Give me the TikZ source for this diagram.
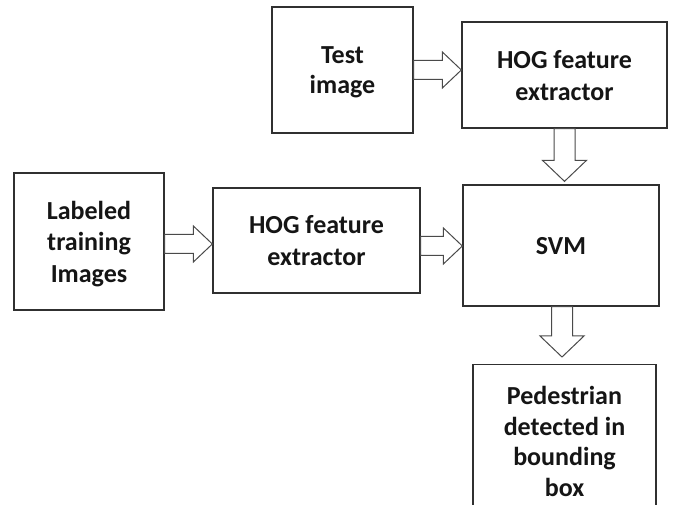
\documentclass[tikz,border=0pt]{standalone}
\usepackage{fontspec}
\setmainfont{Carlito}
\usetikzlibrary{calc}
\definecolor{boxline}{HTML}{303030}
\definecolor{arrline}{HTML}{4A4A4A}
\definecolor{txt}{HTML}{151515}
\tikzset{
  box/.style={draw=boxline, line width=1.3pt, fill=white, align=center, text=txt,
    font=\fontsize{26}{32}\selectfont\bfseries, inner sep=0pt, text depth=0pt},
  blk/.style={draw=arrline, line width=1pt, fill=white, line join=miter}
}
% horizontal block arrow: [y offset]{src}{dst}
\newcommand\harr[3][0pt]{%
  \draw[blk] let \p1=($(#2.east)+(0,#1)$), \p2=(#3.west) in
    (\x1,\y1+9.5pt) -- (\x2-19pt,\y1+9.5pt) -- (\x2-19pt,\y1+18pt) -- (\x2,\y1)
    -- (\x2-19pt,\y1-18pt) -- (\x2-19pt,\y1-9.5pt) -- (\x1,\y1-9.5pt) -- cycle;}
% vertical block arrow: [x offset]{src}{dst}{gap}
\newcommand\varr[4][0pt]{%
  \draw[blk] let \p1=($(#2.south)+(#1,0)$), \p2=($(#3.north)+(0,#4)$) in
    (\x1-10.5pt,\y1) -- (\x1-10.5pt,\y2+21pt) -- (\x1-22pt,\y2+21pt) -- (\x1,\y2)
    -- (\x1+22pt,\y2+21pt) -- (\x1+10.5pt,\y2+21pt) -- (\x1+10.5pt,\y1) -- cycle;}
\begin{document}
\begin{tikzpicture}[x=1pt,y=-1pt]
\useasboundingbox (0,0) rectangle (673,505);
\clip (0,0) rectangle (673,505);
\fill[white] (0,0) rectangle (673,505);
\node[box, minimum width=141pt, minimum height=126pt, font=\fontsize{26}{29.5}\selectfont\bfseries] (test) at (342.5,70) {Test\\image};
\node[box, minimum width=205pt, minimum height=106pt] (hog1) at (564.5,75) {HOG feature\\extractor};
\node[box, minimum width=150pt, minimum height=137pt, font=\fontsize{26}{31.5}\selectfont\bfseries] (lab) at (89,241.5) {Labeled\\training\\Images};
\node[box, minimum width=207pt, minimum height=105pt] (hog2) at (316.5,240.5) {HOG feature\\extractor};
\node[box, minimum width=196pt, minimum height=121pt] (svm) at (561,245.5) {SVM};
\node[box, minimum width=183pt, minimum height=153pt, anchor=north, font=\fontsize{26}{30.5}\selectfont\bfseries] (ped) at (564.5,364) {Pedestrian\\detected in\\bounding\\box};
\harr{test}{hog1}
\harr[-2.5pt]{lab}{hog2}
\harr[-5.5pt]{hog2}{svm}
\varr{hog1}{svm}{3pt}
\varr[1pt]{svm}{ped}{7pt}
\end{tikzpicture}
\end{document}
